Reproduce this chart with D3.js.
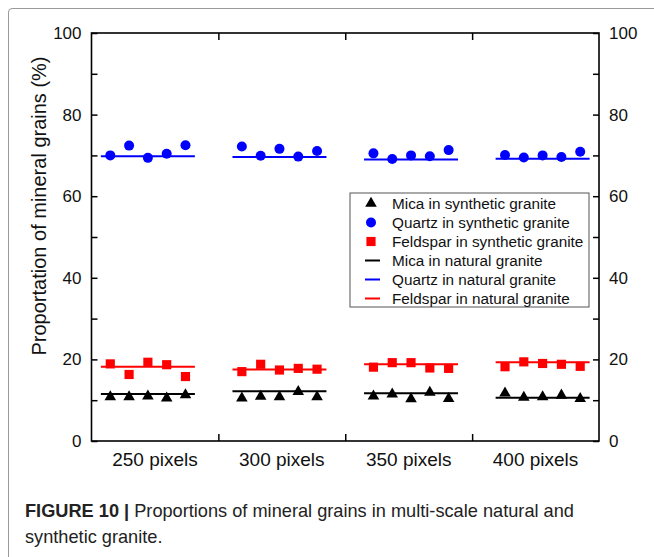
<!DOCTYPE html>
<html>
<head>
  <meta charset="utf-8">
  <script src="https://d3js.org/d3.v7.min.js"></script>
  <style>
    body { margin: 0; background: #fff; }
    svg text { font-family: "Liberation Sans", Arial, sans-serif; }
  </style>
</head>
<body>
  <svg id="chart" width="654" height="557"></svg>

  <script>
    // values
    const categories = ["250 pixels", "300 pixels", "350 pixels", "400 pixels"];
    const quartzSynthetic = [
      [70.0, 72.4, 69.4, 70.4, 72.5],
      [72.2, 69.9, 71.6, 69.7, 71.1],
      [70.5, 69.1, 70.0, 69.8, 71.3],
      [70.1, 69.5, 70.0, 69.6, 70.9]
    ];
    const quartzNatural = [69.8, 69.6, 69.0, 69.2];
    const feldsparSynthetic = [
      [18.9, 16.3, 19.3, 18.7, 15.8],
      [17.0, 18.8, 17.4, 17.8, 17.6],
      [18.1, 19.2, 19.2, 17.9, 17.8],
      [18.2, 19.4, 19.0, 18.8, 18.3]
    ];
    const feldsparNatural = [18.2, 17.5, 18.8, 19.3];
    const micaSynthetic = [
      [10.8, 10.8, 11.0, 10.5, 11.3],
      [10.5, 10.9, 10.8, 12.1, 10.8],
      [11.0, 11.5, 10.3, 11.9, 10.4],
      [11.7, 10.7, 10.8, 11.2, 10.4]
    ];
    const micaNatural = [11.5, 12.2, 11.7, 10.6];
    const yTicks = [0, 20, 40, 60, 80, 100];
    const yMinorTicks = [10, 30, 50, 70, 90];

    const svg = d3.select("svg#chart");

    // card frame around figure + caption
    svg.append("path")
      .attr("d", "M654,8.5 L12,8.5 Q8.5,8.5 8.5,12 L8.5,557")
      .attr("fill", "none")
      .attr("stroke", "#9a9a9a")
      .attr("stroke-width", 1);

    const pLeft = 91.5, pRight = 599, pTop = 33, pBottom = 441;

    // each group holds 5 samples, groups are 7 units apart, axis spans 0..27
    const x = d3.scaleLinear().domain([0, 27]).range([pLeft, pRight]);
    const y = d3.scaleLinear().domain([0, 100]).range([pBottom, pTop]);
    const band = 27 / categories.length;
    const pos = (g, i) => g * 7 + 1 + i;

    const flat = arr => arr.flatMap((vals, g) => vals.map((v, i) => ({ g, i, v })));

    // axes
    const axes = svg.append("g").attr("class", "axes");

    axes.append("g")
      .attr("transform", "translate(" + pLeft + ",0)")
      .call(d3.axisLeft(y).tickValues(yTicks).tickSize(-6).tickPadding(10))
      .call(g => g.select(".domain").remove());
    axes.append("g")
      .attr("transform", "translate(" + pLeft + ",0)")
      .call(d3.axisLeft(y).tickValues(yMinorTicks).tickSize(-6).tickFormat(""))
      .call(g => g.select(".domain").remove());

    axes.append("g")
      .attr("transform", "translate(" + pRight + ",0)")
      .call(d3.axisRight(y).tickValues(yTicks).tickSize(-6).tickPadding(10))
      .call(g => g.select(".domain").remove());
    axes.append("g")
      .attr("transform", "translate(" + pRight + ",0)")
      .call(d3.axisRight(y).tickValues(yMinorTicks).tickSize(-6).tickFormat(""))
      .call(g => g.select(".domain").remove());

    const bandEdges = d3.range(1, categories.length).map(k => k * band);
    axes.append("g")
      .attr("transform", "translate(0," + pTop + ")")
      .call(d3.axisTop(x).tickValues(bandEdges).tickSize(-7).tickFormat(""))
      .call(g => g.select(".domain").remove());
    axes.append("g")
      .attr("transform", "translate(0," + pBottom + ")")
      .call(d3.axisBottom(x).tickValues(bandEdges).tickSize(-7).tickFormat(""))
      .call(g => g.select(".domain").remove());

    axes.selectAll(".tick line").attr("stroke", "#000").attr("stroke-width", 1.5);
    axes.selectAll(".tick text")
      .attr("fill", "#111")
      .style("font-size", "17px");

    svg.append("rect")
      .attr("x", pLeft).attr("y", pTop)
      .attr("width", pRight - pLeft).attr("height", pBottom - pTop)
      .attr("fill", "none")
      .attr("stroke", "#000")
      .attr("stroke-width", 1.6);

    // category labels
    svg.append("g").selectAll("text").data(categories)
      .join("text")
      .attr("x", (d, i) => x(band * (i + 0.5)))
      .attr("y", 466)
      .attr("text-anchor", "middle")
      .style("font-size", "19px")
      .attr("fill", "#111")
      .text(d => d);

    // y title
    svg.append("text")
      .attr("transform", "translate(46," + 206 + ") rotate(-90)")
      .attr("text-anchor", "middle")
      .style("font-size", "20px")
      .attr("fill", "#111")
      .text("Proportation of mineral grains (%)");

    const plot = svg.append("g");

    // natural granite lines
    const drawLines = (vals, color) => {
      plot.append("g").selectAll("line").data(vals)
        .join("line")
        .attr("x1", (d, g) => x(pos(g, 0) - 0.5))
        .attr("x2", (d, g) => x(pos(g, 4) + 0.5))
        .attr("y1", d => y(d))
        .attr("y2", d => y(d))
        .attr("stroke", color)
        .attr("stroke-width", 2);
    };
    drawLines(quartzNatural, "#0000ff");
    drawLines(feldsparNatural, "#ff0000");
    drawLines(micaNatural, "#000000");

    // synthetic granite markers
    const tri = d3.symbol().type(d3.symbolTriangle).size(58);
    const sq = d3.symbol().type(d3.symbolSquare).size(84);

    plot.append("g").selectAll("circle").data(flat(quartzSynthetic))
      .join("circle")
      .attr("cx", d => x(pos(d.g, d.i)))
      .attr("cy", d => y(d.v))
      .attr("r", 5)
      .attr("fill", "#0000ff");

    plot.append("g").selectAll("path").data(flat(feldsparSynthetic))
      .join("path")
      .attr("d", sq)
      .attr("transform", d => "translate(" + x(pos(d.g, d.i)) + "," + y(d.v) + ")")
      .attr("fill", "#ff0000");

    plot.append("g").selectAll("path").data(flat(micaSynthetic))
      .join("path")
      .attr("d", tri)
      .attr("transform", d => "translate(" + x(pos(d.g, d.i)) + "," + y(d.v) + ")")
      .attr("fill", "#000");

    // legend
    const legendItems = [
      { label: "Mica in synthetic granite", kind: "tri", color: "#000" },
      { label: "Quartz in synthetic granite", kind: "circle", color: "#0000ff" },
      { label: "Feldspar in synthetic granite", kind: "square", color: "#ff0000" },
      { label: "Mica in natural granite", kind: "line", color: "#000" },
      { label: "Quartz in natural granite", kind: "line", color: "#0000ff" },
      { label: "Feldspar in natural granite", kind: "line", color: "#ff0000" }
    ];
    const legend = svg.append("g");
    legend.append("rect")
      .attr("x", 350).attr("y", 193)
      .attr("width", 239).attr("height", 114)
      .attr("fill", "#fff")
      .attr("stroke", "#555")
      .attr("stroke-width", 1);

    const rows = legend.selectAll("g").data(legendItems)
      .join("g")
      .attr("transform", (d, i) => "translate(371," + (203.5 + i * 19) + ")");
    rows.each(function (d) {
      const r = d3.select(this);
      if (d.kind === "tri") r.append("path").attr("d", tri).attr("fill", d.color);
      if (d.kind === "circle") r.append("circle").attr("r", 5).attr("fill", d.color);
      if (d.kind === "square") r.append("path").attr("d", sq).attr("fill", d.color);
      if (d.kind === "line") r.append("line").attr("x1", -6).attr("x2", 9)
        .attr("stroke", d.color).attr("stroke-width", 2);
    });
    rows.append("text")
      .attr("x", 21)
      .attr("dy", "0.35em")
      .style("font-size", "15.3px")
      .attr("fill", "#111")
      .text(d => d.label);

    // caption
    const cap = svg.append("text")
      .attr("x", 25)
      .attr("y", 517)
      .style("font-size", "18.2px")
      .attr("fill", "#222");
    cap.append("tspan").attr("font-weight", "bold").text("FIGURE 10 | ");
    cap.append("tspan").text("Proportions of mineral grains in multi-scale natural and");
    svg.append("text")
      .attr("x", 25)
      .attr("y", 543)
      .style("font-size", "18.2px")
      .attr("fill", "#222")
      .text("synthetic granite.");
  </script>
</body>
</html>
